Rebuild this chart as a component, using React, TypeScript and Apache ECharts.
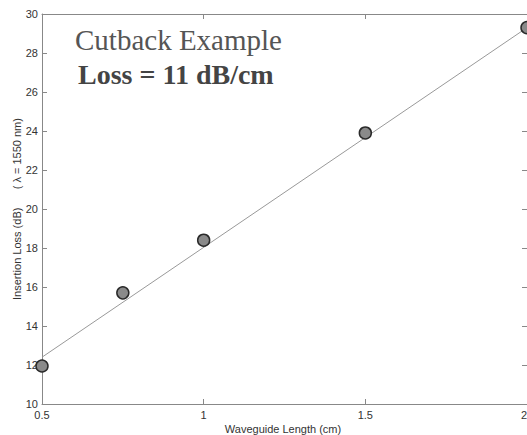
import React, { useEffect, useRef } from "react";
import * as echarts from "echarts";

const lengths = [0.5, 0.75, 1, 1.5, 2];
const losses = [11.95, 15.7, 18.4, 23.9, 29.3];
const fitX = [0.5, 2];
const fitY = [12.4, 29.3];
const xTicks = ["0.5", "1", "1.5", "2"];
const titleText = "Cutback Example";
const lossText = "Loss = 11 dB/cm";
const xName = "Waveguide Length (cm)";
const yName = "Insertion Loss (dB)      ( λ = 1550 nm)";

export default function App() {
  const ref = useRef<HTMLDivElement>(null);
  useEffect(() => {
    if (!ref.current) return;
    const chart = echarts.init(ref.current, undefined, { renderer: "svg" });
    const axisColor = "#888";
    const labelStyle = { color: "#333", fontFamily: "Liberation Sans, Arial", fontSize: 11 };
    chart.setOption({
      animation: false,
      backgroundColor: "#fff",
      grid: { left: 42, right: 0, top: 14, bottom: 31, containLabel: false, outerBoundsMode: "none" },
      xAxis: [
        {
          type: "value",
          min: 0.5,
          max: 2,
          interval: 0.5,
          position: "bottom",
          axisLine: { show: true, onZero: false, lineStyle: { color: axisColor, width: 1 } },
          axisTick: { show: true, inside: true, length: 5, lineStyle: { color: axisColor } },
          splitLine: { show: false },
          axisLabel: {
            ...labelStyle,
            margin: 5,
            alignMaxLabel: "right",
            formatter: (v: number) => {
              const i = Math.round((v - 0.5) / 0.5);
              return xTicks[i] ?? String(v);
            },
          },
        },
        {
          type: "value",
          min: 0.5,
          max: 2,
          interval: 0.5,
          position: "top",
          axisLine: { show: true, onZero: false, lineStyle: { color: axisColor, width: 1 } },
          axisTick: { show: true, inside: true, length: 5, lineStyle: { color: axisColor } },
          axisLabel: { show: false },
          splitLine: { show: false },
        },
      ],
      yAxis: [
        {
          type: "value",
          min: 10,
          max: 30,
          interval: 2,
          position: "left",
          axisLine: { show: true, onZero: false, lineStyle: { color: axisColor, width: 1 } },
          axisTick: { show: true, inside: true, length: 5, lineStyle: { color: axisColor } },
          splitLine: { show: false },
          axisLabel: { ...labelStyle, margin: 4 },
          name: yName,
          nameLocation: "middle",
          nameGap: 20,
          nameRotate: 90,
          nameMoveOverlap: false,
          nameTextStyle: { ...labelStyle, fontSize: 11 },
        },
        {
          type: "value",
          min: 10,
          max: 30,
          interval: 2,
          position: "right",
          axisLine: { show: true, onZero: false, lineStyle: { color: axisColor, width: 1 } },
          axisTick: { show: true, inside: true, length: 5, lineStyle: { color: axisColor } },
          axisLabel: { show: false },
          splitLine: { show: false },
        },
      ],
      series: [
        {
          type: "line",
          data: fitX.map((x, i) => [x, fitY[i]]),
          showSymbol: false,
          symbol: "none",
          lineStyle: { color: "#999", width: 1 },
          z: 2,
        },
        {
          type: "scatter",
          data: lengths.map((x, i) => [x, losses[i]]),
          symbol: "circle",
          symbolSize: 12,
          itemStyle: { color: "#8a8a8a", borderColor: "#2a2a2a", borderWidth: 1.5, opacity: 1 },
          z: 3,
        },
      ],
      graphic: [
        {
          type: "text",
          left: 75,
          top: 25,
          style: {
            text: titleText,
            fontFamily: "Liberation Serif, Times New Roman, serif",
            fontSize: 29,
            fill: "#555",
          },
        },
        {
          type: "text",
          left: 78,
          top: 60,
          style: {
            text: lossText,
            fontFamily: "Liberation Serif, Times New Roman, serif",
            fontSize: 28,
            fontWeight: "bold",
            fill: "#444",
          },
        },
        {
          type: "text",
          x: 283,
          y: 429,
          style: {
            text: xName,
            fontFamily: "Liberation Sans, Arial",
            fontSize: 11,
            fill: "#333",
            align: "center",
            verticalAlign: "middle",
          },
        },
      ],
    });
    return () => chart.dispose();
  }, []);
  return <div ref={ref} style={{ width: 527, height: 435, position: "absolute", left: 0, top: 0 }} />;
}
